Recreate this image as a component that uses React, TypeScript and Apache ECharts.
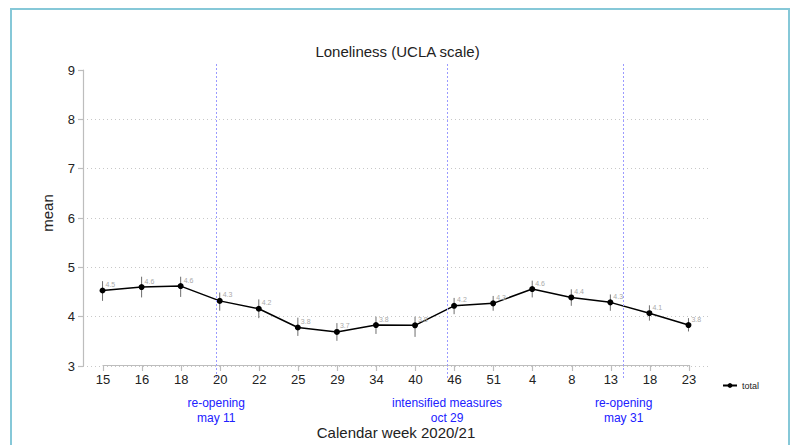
import React, { useEffect, useRef } from "react";
import * as echarts from "echarts";

// Calendar weeks 2020/21 (x categories)
const weeks = ["15", "16", "18", "20", "22", "25", "29", "34", "40", "46", "51", "4", "8", "13", "18", "23"];
// Mean loneliness (UCLA scale)
const means = [4.53, 4.6, 4.62, 4.32, 4.16, 3.78, 3.69, 3.83, 3.825, 4.22, 4.27, 4.56, 4.39, 4.29, 4.07, 3.83];
// Confidence interval bounds
const ciLow = [4.32, 4.39, 4.4, 4.12, 3.97, 3.61, 3.51, 3.65, 3.59, 4.05, 4.12, 4.39, 4.22, 4.12, 3.92, 3.7];
const ciHigh = [4.72, 4.81, 4.81, 4.49, 4.35, 3.98, 3.87, 4.0, 4.0, 4.38, 4.42, 4.73, 4.555, 4.45, 4.23, 3.97];
// Y axis range
const yMin = 3;
const yMax = 9;
// Events (position in category-index units) and their labels
const eventPositions = [2.91, 8.82, 13.34];
const eventLabels = ["re-opening\nmay 11", "intensified measures\noct 29", "re-opening\nmay 31"];

const FONT = "'Liberation Sans', Arial, Helvetica, sans-serif";
const AXIS_GRAY = "#bdbdbd";

export default function App() {
  const ref = useRef<HTMLDivElement>(null);

  useEffect(() => {
    if (!ref.current) return;
    const chart = echarts.init(ref.current, undefined, { renderer: "svg" });
    const n = weeks.length;

    const option: any = {
      animation: false,
      backgroundColor: "#ffffff",
      textStyle: { fontFamily: FONT },
      title: {
        text: "Loneliness (UCLA scale)",
        left: "center",
        top: 39,
        textStyle: { fontFamily: FONT, fontSize: 15, fontWeight: "normal", color: "#222" },
      },
      legend: {
        data: ["total"],
        left: 717,
        top: 376,
        itemWidth: 14,
        itemHeight: 6,
        itemGap: 5,
        textStyle: { fontFamily: FONT, fontSize: 9, color: "#222" },
      },
      graphic: [
        {
          type: "rect",
          silent: true,
          shape: { x: 11, y: 9, width: 778, height: 460 },
          style: { fill: "none", stroke: "#86c8d8", lineWidth: 2 },
        },
      ],
      grid: [
        // 0: value display grid (y axis, gridlines, data)
        { left: 83, right: 87, top: 70, bottom: 79, containLabel: false },
        // 1: x axis display grid
        { left: 103, right: 106, top: 70, bottom: 69, containLabel: false },
        // 2: full plot region for event lines
        { left: 83, right: 87, top: 63, bottom: 67, containLabel: false },
      ],
      xAxis: [
        {
          gridIndex: 0,
          type: "value",
          min: -0.5,
          max: n - 0.5,
          show: false,
        },
        {
          gridIndex: 1,
          type: "category",
          data: weeks,
          boundaryGap: false,
          name: "Calendar week 2020/21",
          nameLocation: "middle",
          nameGap: 60,
          nameTextStyle: { fontFamily: FONT, fontSize: 15, color: "#222" },
          axisLine: { show: true, onZero: false, lineStyle: { color: AXIS_GRAY, width: 1.2 } },
          axisTick: { show: true, length: 6, alignWithLabel: true, lineStyle: { color: AXIS_GRAY, width: 1.2 } },
          axisLabel: { show: true, interval: 0, margin: 8, fontFamily: FONT, fontSize: 13, color: "#222" },
          splitLine: { show: false },
        },
        {
          gridIndex: 2,
          type: "value",
          min: -0.5,
          max: n - 0.5,
          show: false,
        },
      ],
      yAxis: [
        {
          gridIndex: 0,
          type: "value",
          min: yMin,
          max: yMax,
          interval: 1,
          name: "mean",
          nameLocation: "middle",
          nameRotate: 90,
          nameGap: 28,
          nameTextStyle: { fontFamily: FONT, fontSize: 15, color: "#222", padding: [0, 0, 0, 10] },
          axisLine: { show: true, onZero: false, lineStyle: { color: AXIS_GRAY, width: 1.2 } },
          axisTick: { show: true, length: 5, lineStyle: { color: AXIS_GRAY, width: 1.2 } },
          axisLabel: { show: true, margin: 8, fontFamily: FONT, fontSize: 13, color: "#222" },
          splitLine: {
            show: true,
            showMaxLine: false,
            lineStyle: { color: "#c8c8c8", width: 1, type: [1, 3] },
          },
        },
        { gridIndex: 1, type: "value", show: false, min: 0, max: 1 },
        { gridIndex: 2, type: "value", show: false, min: 0, max: 1 },
      ],
      series: [
        {
          name: "ci",
          type: "custom",
          xAxisIndex: 0,
          yAxisIndex: 0,
          z: 1,
          silent: true,
          data: weeks.map((_, i) => [i, ciLow[i], ciHigh[i]]),
          encode: { x: 0, y: [1, 2] },
          renderItem: (params: any, api: any) => {
            const x = api.value(0);
            const lo = api.coord([x, api.value(1)]);
            const hi = api.coord([x, api.value(2)]);
            return {
              type: "line",
              shape: { x1: lo[0], y1: lo[1], x2: hi[0], y2: hi[1] },
              style: { stroke: "#6e6e6e", lineWidth: 1 },
            };
          },
        },
        {
          name: "total",
          type: "line",
          xAxisIndex: 0,
          yAxisIndex: 0,
          z: 3,
          data: weeks.map((_, i) => [i, means[i]]),
          symbol: "circle",
          symbolSize: 6,
          itemStyle: { color: "#000" },
          lineStyle: { color: "#000", width: 1.5 },
          label: {
            show: true,
            position: "right",
            distance: 0,
            offset: [0, -6],
            fontFamily: FONT,
            fontSize: 7,
            color: "#aaaaaa",
            formatter: (p: any) => Number(p.value[1]).toFixed(1),
          },
        },
        {
          name: "events",
          type: "line",
          xAxisIndex: 2,
          yAxisIndex: 2,
          data: [],
          silent: true,
          markLine: {
            silent: true,
            symbol: ["none", "none"],
            animation: false,
            lineStyle: { color: "#9a9aff", width: 1, type: [2, 2] },
            label: {
              show: true,
              position: "start",
              distance: 17,
              formatter: "{b}",
              fontFamily: FONT,
              fontSize: 12,
              lineHeight: 15,
              color: "#2020ff",
            },
            data: eventPositions.map((p, i) => ({ xAxis: p, name: eventLabels[i] })),
          },
        },
      ],
    };

    chart.setOption(option);
    return () => chart.dispose();
  }, []);

  return (
    <div
      ref={ref}
      style={{ position: "fixed", left: 0, top: 0, width: 795, height: 445 }}
    />
  );
}
